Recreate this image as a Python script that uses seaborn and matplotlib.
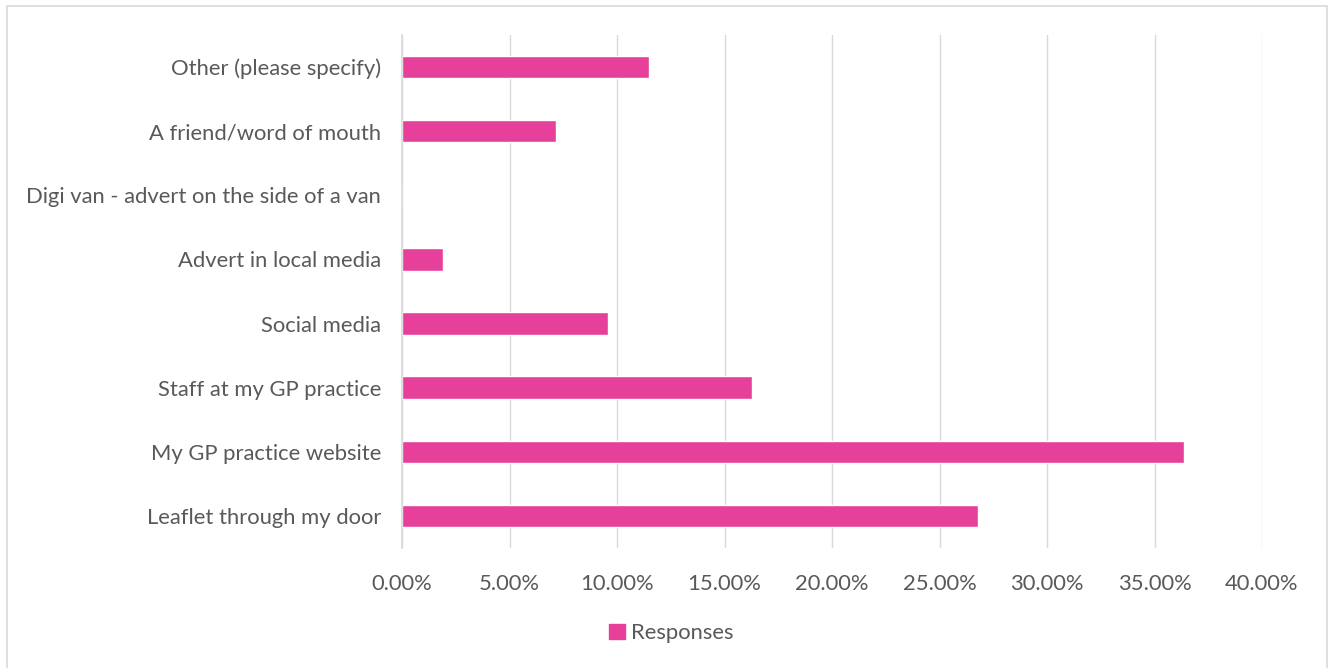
import matplotlib
matplotlib.use("Agg")
import matplotlib.pyplot as plt
import matplotlib.patches as mpatches
from matplotlib.ticker import FuncFormatter
import seaborn as sns
import pandas as pd

# Survey answers: "How did you hear about ...?" (share of responses)
categories = [
    "Other (please specify)",
    "A friend/word of mouth",
    "Digi van - advert on the side of a van",
    "Advert in local media",
    "Social media",
    "Staff at my GP practice",
    "My GP practice website",
    "Leaflet through my door",
]
responses = [0.1147, 0.0716, 0.0, 0.0191, 0.0957, 0.1626, 0.3637, 0.2680]
x_ticks = [0.0, 0.05, 0.10, 0.15, 0.20, 0.25, 0.30, 0.35, 0.40]
series_name = "Responses"

PINK = "#E7409A"
GRID = "#D9D9D9"
TEXT = "#595959"
FS = 15.8

sns.set_theme(style="white")
plt.rcParams["font.family"] = ["Lato", "DejaVu Sans"]

df = pd.DataFrame({"category": categories, "share": responses})

fig = plt.figure(figsize=(13.3, 6.68), dpi=100)
ax = fig.add_axes([0.3023, 0.1796, 0.6466, 0.7680])

sns.barplot(data=df, x="share", y="category", order=categories,
            color=PINK, saturation=1, width=0.35, ax=ax, orient="h")

ax.set_xlim(x_ticks[0], x_ticks[-1])
ax.set_ylim(len(categories) - 0.5, -0.5)
ax.set_xticks(x_ticks)
ax.xaxis.set_major_formatter(FuncFormatter(lambda v, _: f"{v * 100:.2f}%"))

ax.grid(axis="x", color=GRID, linewidth=1.0)
ax.grid(axis="y", visible=False)
ax.set_axisbelow(True)
for side in ("top", "right", "bottom"):
    ax.spines[side].set_visible(False)
ax.spines["left"].set_color(GRID)
ax.spines["left"].set_linewidth(1.2)

ax.set_xlabel("")
ax.set_ylabel("")
ax.tick_params(axis="x", length=0, pad=19, labelsize=FS, labelcolor=TEXT)
ax.tick_params(axis="y", length=0, pad=15, labelsize=FS, labelcolor=TEXT)

# Legend below the plot
handle = mpatches.Patch(color=PINK, label=series_name)
fig.legend(handles=[handle], loc="center", bbox_to_anchor=(0.505, 0.052),
           frameon=False, fontsize=FS, labelcolor=TEXT,
           handlelength=0.7, handleheight=0.7, handletextpad=0.3)

# Chart-area border
fig.patches.append(mpatches.Rectangle(
    (7 / 1330, -0.02), (1327 - 7) / 1330, 1 - 6 / 668 + 0.02,
    transform=fig.transFigure, fill=False, edgecolor=GRID, linewidth=1.2))

fig.savefig("out.png", dpi=100, facecolor="white")
